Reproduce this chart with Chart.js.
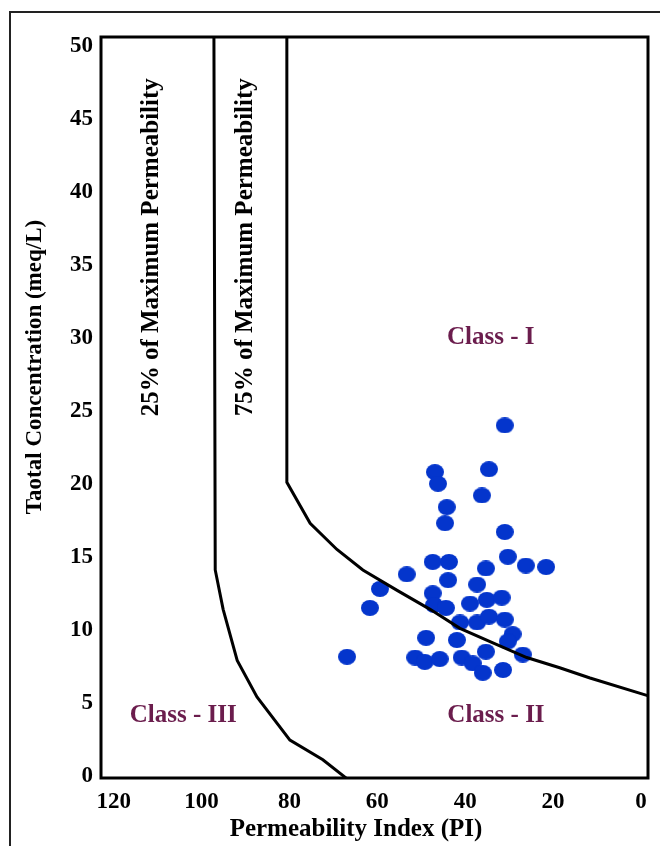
<!DOCTYPE html>
<html>
<head>
<meta charset="utf-8">
<title>Permeability Index</title>
<script src="https://cdn.jsdelivr.net/npm/chart.js@4.4.1/dist/chart.umd.min.js"></script>
<style>
  html, body { margin: 0; padding: 0; background: #fff; }
  .frame {
    position: absolute; left: 9px; top: 11px; width: 700px; height: 900px;
    border-left: 2px solid #222; border-top: 2px solid #222;
  }
  canvas { position: absolute; left: 0; top: 0; }
</style>
</head>
<body>
<div class="frame"></div>
<canvas id="piChart" width="660" height="846"></canvas>
<script>
// tick labels
const xTicks = [120, 100, 80, 60, 40, 20, 0];
const yTicks = [0, 5, 10, 15, 20, 25, 30, 35, 40, 45, 50];

// water samples: PI (%) and total concentration (meq/L)
const samplePI = [31.0, 46.9, 46.2, 34.6, 36.2, 44.2, 44.6, 31.0, 30.3, 26.2, 21.6,
  47.4, 43.7, 35.3, 53.3, 43.9, 37.3, 59.4, 47.4, 61.7, 47.1, 44.4, 38.9, 35.1,
  31.7, 41.2, 37.3, 34.6, 31.0, 48.9, 41.9, 29.2, 30.3, 66.9, 51.4, 49.2, 45.8,
  40.8, 38.3, 35.3, 36.0, 31.4, 26.9];
const sampleTC = [24.0, 20.8, 20.0, 21.0, 19.2, 18.4, 17.3, 16.7, 15.0, 14.4, 14.3,
  14.65, 14.65, 14.2, 13.8, 13.4, 13.1, 12.8, 12.5, 11.5, 11.7, 11.5, 11.8, 12.05,
  12.2, 10.5, 10.5, 10.9, 10.7, 9.45, 9.3, 9.7, 9.2, 8.15, 8.1, 7.8, 8.0,
  8.1, 7.7, 8.5, 7.05, 7.25, 8.3];

// boundary curves (Doneen)
const line25PI = [97.2, 96.9, 95.1, 91.9, 87.4, 79.9, 72.4, 66.5];
const line25TC = [51, 14.1, 11.4, 7.9, 5.4, 2.45, 1.1, -0.3];
const line75PI = [80.6, 80.6, 75.3, 69.2, 63.3, 55.5, 48.0, 41.2, 33.7, 26.0, 18.5, 11.6, -2];
const line75TC = [51, 20.1, 17.3, 15.5, 14.1, 12.7, 11.4, 10.1, 9.1, 8.1, 7.4, 6.7, 5.45];

const serif = "'Liberation Serif', 'Times New Roman', serif";
const classColor = "#6b1d4d";

function toPoints(xs, ys) {
  return xs.map((x, i) => ({ x: x, y: ys[i] }));
}

function makeDot(w, h, color) {
  const c = document.createElement("canvas");
  c.width = w;
  c.height = h;
  const g = c.getContext("2d");
  g.fillStyle = color;
  g.beginPath();
  g.ellipse(w / 2, h / 2, w / 2, h / 2, 0, 0, Math.PI * 2);
  g.fill();
  return c;
}

// plot frame, zone labels and axis titles
const decorations = {
  id: "decorations",
  afterDatasetsDraw(chart) {
    const { ctx, chartArea: a, scales } = chart;
    const px = (v) => scales.x.getPixelForValue(v);
    const py = (v) => scales.y.getPixelForValue(v);

    ctx.save();
    ctx.strokeStyle = "#000";
    ctx.lineWidth = 3;
    ctx.strokeRect(a.left, a.top, a.right - a.left, a.bottom - a.top);

    ctx.textAlign = "center";
    ctx.textBaseline = "middle";

    ctx.fillStyle = "#000";
    ctx.font = "bold 25px " + serif;
    [["25% of Maximum Permeability", 111.3], ["75% of Maximum Permeability", 90.1]].forEach(([t, v]) => {
      ctx.save();
      ctx.translate(px(v), py(36.2));
      ctx.rotate(-Math.PI / 2);
      ctx.fillText(t, 0, 0);
      ctx.restore();
    });

    ctx.fillStyle = classColor;
    ctx.font = "bold 25px " + serif;
    ctx.fillText("Class - I", px(34.2), py(30.0));
    ctx.fillText("Class - II", px(33.0), py(4.1));
    ctx.fillText("Class - III", px(104.2), py(4.1));

    ctx.fillStyle = "#000";
    ctx.font = "bold 25px " + serif;
    ctx.fillText("Permeability Index (PI)", 356, 830);
    ctx.save();
    ctx.translate(35, 367);
    ctx.rotate(-Math.PI / 2);
    ctx.font = "bold 23px " + serif;
    ctx.fillText("Taotal Concentration (meq/L)", 0, 0);
    ctx.restore();
    ctx.restore();
  },
};

const lineStyle = {
  type: "line",
  borderColor: "#000",
  borderWidth: 3,
  pointRadius: 0,
  tension: 0,
  fill: false,
  order: 0,
};

new Chart(document.getElementById("piChart"), {
  type: "scatter",
  data: {
    datasets: [
      Object.assign({ label: "25%", data: toPoints(line25PI, line25TC) }, lineStyle),
      Object.assign({ label: "75%", data: toPoints(line75PI, line75TC) }, lineStyle),
      {
        label: "Samples",
        data: toPoints(samplePI, sampleTC),
        pointStyle: makeDot(18, 16, "#0435cc"),
        pointRadius: 9,
        order: 1,
      },
    ],
  },
  options: {
    responsive: false,
    animation: false,
    events: [],
    layout: { padding: { top: 37, right: 12, left: 0, bottom: 0 } },
    plugins: {
      legend: { display: false },
      tooltip: { enabled: false },
    },
    scales: {
      x: {
        type: "linear",
        reverse: true,
        min: -1.6,
        max: 122.9,
        afterFit: (s) => { s.height = 68; },
        afterBuildTicks: (s) => { s.ticks = xTicks.map((v) => ({ value: v })); },
        grid: { display: false, drawTicks: false },
        border: { display: false },
        ticks: {
          padding: 10,
          autoSkip: false,
          maxRotation: 0,
          color: "#000",
          font: { family: serif, size: 23, weight: "bold" },
        },
      },
      y: {
        type: "linear",
        min: -0.15,
        max: 50.6,
        afterFit: (s) => { s.width = 101; },
        afterBuildTicks: (s) => { s.ticks = yTicks.map((v) => ({ value: v })); },
        grid: { display: false, drawTicks: false },
        border: { display: false },
        ticks: {
          padding: 8,
          autoSkip: false,
          color: "#000",
          font: { family: serif, size: 23, weight: "bold" },
        },
      },
    },
  },
  plugins: [decorations],
});
</script>
</body>
</html>
